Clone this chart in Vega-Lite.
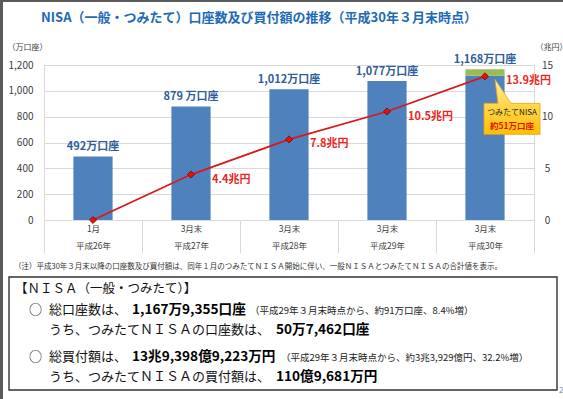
{
  "$schema": "https://vega.github.io/schema/vega-lite/v6.json",
  "width": 490,
  "height": 155,
  "autosize": {"type": "none"},
  "padding": {"left": 44, "top": 65, "right": 29, "bottom": 179},
  "background": "white",
  "config": {
    "font": "Noto Sans CJK JP",
    "view": {"stroke": null},
    "text": {"font": "Noto Sans CJK JP"},
    "axis": {"labelOverlap": false, "labelBound": false, "labelFlush": false}
  },
  "datasets": {
    "bars": [
      {"cat": "1月|平成26年", "type": "一般NISA", "value": 492},
      {"cat": "3月末|平成27年", "type": "一般NISA", "value": 879},
      {"cat": "3月末|平成28年", "type": "一般NISA", "value": 1012},
      {"cat": "3月末|平成29年", "type": "一般NISA", "value": 1077},
      {"cat": "3月末|平成30年", "type": "一般NISA", "value": 1117},
      {"cat": "3月末|平成30年", "type": "つみたてNISA", "value": 51}
    ],
    "barlabels": [
      {"cat": "1月|平成26年", "value": 492, "label": "492万口座"},
      {"cat": "3月末|平成27年", "value": 879, "label": "879 万口座"},
      {"cat": "3月末|平成28年", "value": 1012, "label": "1,012万口座"},
      {"cat": "3月末|平成29年", "value": 1077, "label": "1,077万口座"},
      {"cat": "3月末|平成30年", "value": 1168, "label": "1,168万口座"}
    ],
    "line": [
      {"cat": "1月|平成26年", "amount": 0, "label": ""},
      {"cat": "3月末|平成27年", "amount": 4.4, "label": "4.4兆円"},
      {"cat": "3月末|平成28年", "amount": 7.8, "label": "7.8兆円"},
      {"cat": "3月末|平成29年", "amount": 10.5, "label": "10.5兆円"},
      {"cat": "3月末|平成30年", "amount": 13.9, "label": "13.9兆円"}
    ],
    "callout": [
      {"cat": "3月末|平成30年", "amount": 13.9, "l1": "つみたてNISA", "l2": "約51万口座"}
    ]
  },
  "layer": [
    {
      "data": {"values": [{}]},
      "mark": {"type": "rect", "x": -44, "x2": -41, "y": -65, "y2": 334, "fill": "#5A5A5A"},
      "encoding": {}
    },
    {
      "data": {"values": [{}]},
      "mark": {"type": "rect", "x": -44, "x2": 519, "y": -65, "y2": -63, "fill": "#5A5A5A"},
      "encoding": {}
    },
    {
      "data": {"name": "bars"},
      "encoding": {
        "x": {
          "field": "cat", "type": "nominal", "sort": null,
          "scale": {"domain": ["1月|平成26年", "3月末|平成27年", "3月末|平成28年", "3月末|平成29年", "3月末|平成30年"], "paddingInner": 0, "paddingOuter": 0},
          "axis": {
            "title": null, "labelExpr": "split(datum.label, '|')", "labelLineHeight": 17,
            "labelFontSize": 8.5, "labelColor": "#404040", "labelPadding": -29, "labelBaseline": "top",
            "labelAngle": 0, "tickBand": "extent", "tickSize": 33, "tickColor": "#D9D9D9",
            "domainColor": "#D9D9D9", "grid": false
          }
        },
        "y": {
          "field": "value", "type": "quantitative", "stack": "zero",
          "scale": {"domain": [0, 1200], "nice": false},
          "axis": {
            "title": "（万口座）", "values": [0, 200, 400, 600, 800, 1000, 1200], "tickCount": 12,
            "labelExpr": "format(datum.value, ',')", "labelOverlap": false,
            "grid": true, "gridColor": "#D9D9D9", "ticks": false, "domainColor": "#D9D9D9",
            "labelPadding": 11, "labelFontSize": 10, "labelColor": "#404040",
            "titleAngle": 0, "titleX": -37, "titleY": -18, "titleAlign": "left", "titleBaseline": "middle",
            "titleFontSize": 8, "titleFontWeight": "normal", "titleColor": "#404040"
          }
        }
      },
      "layer": [
        {
          "mark": {"type": "bar", "width": {"band": 0.4}},
          "encoding": {
            "color": {"field": "type", "type": "nominal", "scale": {"domain": ["一般NISA", "つみたてNISA"], "range": ["#4F81BD", "#9BBB59"]}, "legend": null},
            "order": {"field": "type", "sort": "descending"}
          }
        },
        {
          "data": {"name": "barlabels"},
          "mark": {"type": "text", "dy": -9, "fontSize": 11, "fontWeight": "bold", "color": "#2F5D9B"},
          "encoding": {"text": {"field": "label"}}
        }
      ]
    },
    {
      "data": {"name": "line"},
      "encoding": {
        "x": {"field": "cat", "type": "nominal", "sort": null},
        "y": {
          "field": "amount", "type": "quantitative", "scale": {"domain": [0, 15]},
          "axis": {
            "orient": "right", "title": "（兆円）", "values": [0, 5, 10, 15], "tickCount": 8, "labelOverlap": false, "grid": false, "ticks": false,
            "domainColor": "#D9D9D9", "labelAlign": "center", "labelPadding": 13, "labelFontSize": 10, "labelColor": "#404040",
            "titleAngle": 0, "titleX": 1, "titleY": -18, "titleAlign": "left", "titleBaseline": "middle",
            "titleFontSize": 8, "titleFontWeight": "normal", "titleColor": "#404040"
          }
        }
      },
      "layer": [
        {
          "data": {"name": "callout"},
          "mark": {
            "type": "point", "shape": "M-1,27L13,27L10,3L26,27L55,27L55,58L-1,58Z", "size": 4,
            "filled": true, "opacity": 1,
            "fill": {"gradient": "linear", "x1": 0, "y1": 0, "x2": 0, "y2": 1, "stops": [{"offset": 0, "color": "#FFF0A0"}, {"offset": 0.5, "color": "#FFD54A"}, {"offset": 1, "color": "#FFC000"}]},
            "stroke": "#E8A317", "strokeWidth": 0.8
          }
        },
        {
          "data": {"name": "callout"},
          "mark": {"type": "text", "dx": 27, "dy": 37, "fontSize": 8, "color": "#222222"},
          "encoding": {"text": {"field": "l1"}}
        },
        {
          "data": {"name": "callout"},
          "mark": {"type": "text", "dx": 27, "dy": 50, "fontSize": 8.5, "fontWeight": "bold", "color": "#E3120B"},
          "encoding": {"text": {"field": "l2"}}
        },
        {"mark": {"type": "line", "color": "#D7191C", "strokeWidth": 1.8}},
        {"mark": {"type": "point", "shape": "diamond", "filled": true, "fill": "#E3120B", "stroke": "#7F0000", "strokeWidth": 0.8, "size": 50, "opacity": 1}},
        {
          "transform": [{"filter": "datum.label != ''"}],
          "mark": {"type": "text", "align": "left", "dx": 21, "dy": 5, "fontSize": 11, "fontWeight": "bold", "color": "#E8281E"},
          "encoding": {"text": {"field": "label"}}
        }
      ]
    },
    {
      "data": {"values": [{"t": "NISA（一般・つみたて）口座数及び買付額の推移（平成30年３月末時点）"}]},
      "mark": {"type": "text", "x": 215, "y": -47, "align": "center", "baseline": "middle", "fontSize": 13, "fontWeight": "bold", "color": "#1D6AB5"},
      "encoding": {"text": {"field": "t"}}
    },
    {
      "data": {"values": [{}]},
      "mark": {"type": "rule", "x": -44, "x2": 519, "y": -34.5, "color": "#1D6AB5", "strokeWidth": 3},
      "encoding": {}
    },
    {
      "data": {"values": [{"t": "（注）平成30年３月末以降の口座数及び買付額は、同年１月のつみたてＮＩＳＡ開始に伴い、一般ＮＩＳＡとつみたてＮＩＳＡの合計値を表示。"}]},
      "mark": {"type": "text", "x": -30, "y": 202, "align": "left", "baseline": "middle", "fontSize": 7.5, "color": "#333333"},
      "encoding": {"text": {"field": "t"}}
    },
    {
      "data": {"values": [{}]},
      "mark": {"type": "rect", "x": -35, "x2": 513, "y": 212, "y2": 325, "fill": "transparent", "stroke": "#333333", "strokeWidth": 1.4},
      "encoding": {}
    },
    {
      "data": {"values": [{"t": "【ＮＩＳＡ（一般・つみたて）】"}]},
      "mark": {"type": "text", "x": -29, "y": 224, "align": "left", "baseline": "middle", "fontSize": 12.5, "color": "#111111"},
      "encoding": {"text": {"field": "t"}}
    },
    {
      "data": {"values": [{"t": "○"}]},
      "mark": {"type": "text", "x": -15, "y": 245, "align": "left", "baseline": "middle", "fontSize": 13, "color": "#111111"},
      "encoding": {"text": {"field": "t"}}
    },
    {
      "data": {"values": [{"t": "総口座数は、"}]},
      "mark": {"type": "text", "x": 5, "y": 245, "align": "left", "baseline": "middle", "fontSize": 13, "color": "#111111"},
      "encoding": {"text": {"field": "t"}}
    },
    {
      "data": {"values": [{"t": "1,167万9,355口座"}]},
      "mark": {"type": "text", "x": 88, "y": 245, "align": "left", "baseline": "middle", "fontSize": 13.6, "fontWeight": "bold", "color": "#000000"},
      "encoding": {"text": {"field": "t"}}
    },
    {
      "data": {"values": [{"t": "（平成29年３月末時点から、約91万口座、8.4%増）"}]},
      "mark": {"type": "text", "x": 206, "y": 246, "align": "left", "baseline": "middle", "fontSize": 9.5, "color": "#222222"},
      "encoding": {"text": {"field": "t"}}
    },
    {
      "data": {"values": [{"t": "うち、つみたてＮＩＳＡの口座数は、"}]},
      "mark": {"type": "text", "x": 5, "y": 265, "align": "left", "baseline": "middle", "fontSize": 13, "color": "#111111"},
      "encoding": {"text": {"field": "t"}}
    },
    {
      "data": {"values": [{"t": "50万7,462口座"}]},
      "mark": {"type": "text", "x": 232, "y": 265, "align": "left", "baseline": "middle", "fontSize": 13.6, "fontWeight": "bold", "color": "#000000"},
      "encoding": {"text": {"field": "t"}}
    },
    {
      "data": {"values": [{"t": "○"}]},
      "mark": {"type": "text", "x": -15, "y": 292, "align": "left", "baseline": "middle", "fontSize": 13, "color": "#111111"},
      "encoding": {"text": {"field": "t"}}
    },
    {
      "data": {"values": [{"t": "総買付額は、"}]},
      "mark": {"type": "text", "x": 5, "y": 292, "align": "left", "baseline": "middle", "fontSize": 13, "color": "#111111"},
      "encoding": {"text": {"field": "t"}}
    },
    {
      "data": {"values": [{"t": "13兆9,398億9,223万円"}]},
      "mark": {"type": "text", "x": 88, "y": 292, "align": "left", "baseline": "middle", "fontSize": 13.6, "fontWeight": "bold", "color": "#000000"},
      "encoding": {"text": {"field": "t"}}
    },
    {
      "data": {"values": [{"t": "（平成29年３月末時点から、約3兆3,929億円、32.2%増）"}]},
      "mark": {"type": "text", "x": 237, "y": 293, "align": "left", "baseline": "middle", "fontSize": 9.5, "color": "#222222"},
      "encoding": {"text": {"field": "t"}}
    },
    {
      "data": {"values": [{"t": "うち、つみたてＮＩＳＡの買付額は、"}]},
      "mark": {"type": "text", "x": 5, "y": 312, "align": "left", "baseline": "middle", "fontSize": 13, "color": "#111111"},
      "encoding": {"text": {"field": "t"}}
    },
    {
      "data": {"values": [{"t": "110億9,681万円"}]},
      "mark": {"type": "text", "x": 232, "y": 312, "align": "left", "baseline": "middle", "fontSize": 13.6, "fontWeight": "bold", "color": "#000000"},
      "encoding": {"text": {"field": "t"}}
    },
    {
      "data": {"values": [{}]},
      "mark": {"type": "rule", "x": 88, "x2": 204, "y": 252.5, "color": "#000000", "strokeWidth": 1.2},
      "encoding": {}
    },
    {
      "data": {"values": [{}]},
      "mark": {"type": "rule", "x": 232, "x2": 326, "y": 272.5, "color": "#000000", "strokeWidth": 1.2},
      "encoding": {}
    },
    {
      "data": {"values": [{}]},
      "mark": {"type": "rule", "x": 88, "x2": 218, "y": 299.5, "color": "#000000", "strokeWidth": 1.2},
      "encoding": {}
    },
    {
      "data": {"values": [{}]},
      "mark": {"type": "rule", "x": 232, "x2": 331, "y": 319.5, "color": "#000000", "strokeWidth": 1.2},
      "encoding": {}
    },
    {
      "data": {"values": [{"t": "2"}]},
      "mark": {"type": "text", "x": 515, "y": 326, "align": "left", "baseline": "middle", "fontSize": 8, "color": "#888888"},
      "encoding": {"text": {"field": "t"}}
    }
  ],
  "resolve": {"scale": {"y": "independent"}}
}
